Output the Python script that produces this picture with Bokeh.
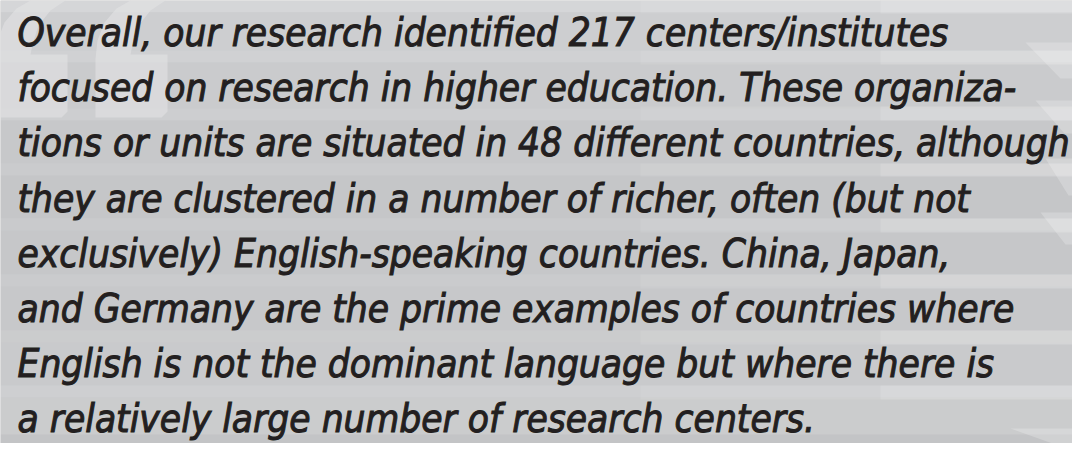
from bokeh.plotting import figure
from bokeh.models import Range1d
from bokeh.core.properties import value
from bokeh.embed import file_html
from bokeh.resources import INLINE

# ---- content ----
lines = [
    "Overall, our research identified 217 centers/institutes",
    "focused on research in higher education. These organiza-",
    "tions or units are situated in 48 different countries, although",
    "they are clustered in a number of richer, often (but not",
    "exclusively) English-speaking countries. China, Japan,",
    "and Germany are the prime examples of countries where",
    "English is not the dominant language but where there is",
    "a relatively large number of research centers.",
]

W, H = 1072, 443
p = figure(width=W, height=H, output_backend="svg", toolbar_location=None,
           x_range=Range1d(0, W), y_range=Range1d(H, 0), min_border=0,
           background_fill_color="#c9cacc", border_fill_color="#c9cacc")
p.axis.visible = False
p.grid.visible = False
p.outline_line_color = None

# ---- background: soft brushed-metal bands ----
band_top = [0, 12, 50, 62, 108, 120, 163, 175, 218, 230, 274, 286, 330, 342, 385, 397, 434]
band_bot = [12, 50, 62, 108, 120, 163, 175, 218, 230, 274, 286, 330, 342, 385, 397, 434, 443]
band_col = ["#d5d6d8", "#cdced0", "#d0d1d3", "#cacbcd", "#cdced0", "#c7c8ca", "#cacbcd",
            "#c5c6c8", "#c9cacc", "#c6c7c9", "#cacbcd", "#c7c8ca", "#cbcccd", "#c9cacc",
            "#cecfd1", "#cbcccd", "#c3c4c6"]
p.quad(left=0, right=W, top=band_top, bottom=band_bot, fill_color=band_col, line_color=None)

# lighter streaks towards the right
streak_top = [0, 50, 106, 163, 218, 274, 330, 385]
streak_bot = [13, 64, 120, 176, 232, 288, 344, 399]
p.quad(left=640, right=W, top=streak_top, bottom=streak_bot, fill_color="#ffffff",
       fill_alpha=0.08, line_color=None)
p.quad(left=880, right=W, top=streak_top, bottom=streak_bot, fill_color="#ffffff",
       fill_alpha=0.14, line_color=None)
# diagonal blinds at the right edge
dx = [[1025, 1072, 1072, 1060], [1035, 1072, 1072, 1064], [1045, 1072, 1072, 1068],
      [1040, 1072, 1072, 1065], [1010, 1072, 1072, 1052]]
dy = [[42, 42, 78, 78], [100, 100, 133, 133], [158, 158, 195, 195],
      [212, 212, 244, 244], [428, 428, 443, 443]]
p.patches(xs=dx, ys=dy, fill_color="#ffffff", fill_alpha=0.22, line_color=None)

# ---- big quote mark ----
qx = [95, 95, 97, 104, 116, 130, 165, 150, 138, 132, 130, 167, 167, 161]
qy = [117, 58, 40, 22, 8, 0, 0, 10, 25, 44, 54, 54, 111, 117]
p.patches(xs=[[x - 100 for x in qx], qx], ys=[qy, qy], fill_color="#e2e3e5",
          fill_alpha=0.6, line_color=None)

# ---- text ----
xs = [17] * len(lines)
ys = [32 + i * 55.2 for i in range(len(lines))]
p.text(x=xs, y=ys, text=lines, text_baseline="alphabetic", text_align="left",
       text_font=value("DejaVu Sans Condensed"), text_font_style="italic",
       text_font_size="38.5px", text_color="#231f20",
       text_outline_color="#231f20")

open("out.html", "w").write(file_html(p, INLINE))
